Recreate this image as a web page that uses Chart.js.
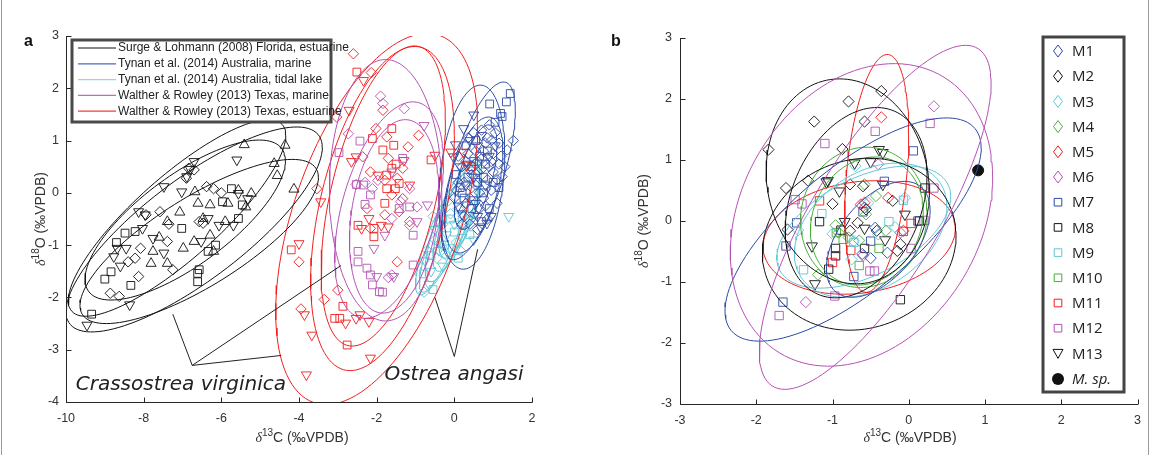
<!DOCTYPE html>
<html>
<head>
<meta charset="utf-8">
<script src="https://cdn.jsdelivr.net/npm/chart.js@4.4.1/dist/chart.umd.min.js"></script>
<style>
  body { margin:0; background:#fff; width:1150px; height:455px; position:relative; overflow:hidden; }
  canvas { position:absolute; top:0; }
  #ca { left:0; }
  #cb { left:575px; }
  .edge { position:absolute; top:0; height:455px; width:1px; background:#9a9a9a; }
</style>
</head>
<body>
<canvas id="ca" width="575" height="455"></canvas>
<canvas id="cb" width="575" height="455"></canvas>
<div class="edge" style="left:1px"></div>
<div class="edge" style="left:1148px"></div>
<script>
// ---------- panel a : data (d13C, d18O) ----------
var xTicksA = [-10, -8, -6, -4, -2, 0, 2];
var yTicksA = [-4, -3, -2, -1, 0, 1, 2, 3];
var legendA = ['Surge & Lohmann (2008) Florida, estuarine', 'Tynan et al. (2014) Australia, marine',
  'Tynan et al. (2014) Australia, tidal lake', 'Walther & Rowley (2013) Texas, marine',
  'Walther & Rowley (2013) Texas, estuarine'];

// Surge & Lohmann - black
var blkUp = [[-5.41,0.92],[-4.36,0.91],[-4.64,0.56],[-4.56,0.33],[-4.13,0.07],[-6.68,0.02],[-6.29,-0.23],[-7.07,-0.37],
  [-6.60,-0.20],[-5.83,-0.20],[-5.56,0.05],[-5.23,-0.01],[-5.37,-0.27],[-7.39,-0.55],[-6.98,-1.06],[-7.76,-1.12],
  [-7.81,-1.35],[-7.39,-1.35],[-6.29,-0.81],[-6.70,-0.93],[-6.20,-1.12],[-6.47,-0.49],[-7.60,-0.85],[-5.90,-0.55]];
var blkDown = [[-5.60,0.63],[-6.70,0.60],[-6.89,0.31],[-7.48,0.12],[-7.02,0.02],[-8.13,-0.36],[-7.96,-0.42],[-8.68,-1.06],
  [-8.77,-1.22],[-8.45,-1.06],[-8.03,-0.68],[-7.76,-0.87],[-7.48,-1.15],[-6.34,-0.49],[-6.06,-0.62],[-6.52,-0.93],
  [-5.69,-0.62],[-5.32,-0.11],[-8.36,-2.14],[-9.46,-2.53],[-5.56,-0.01],[-6.80,0.45],[-8.60,-1.40]];
var blkDia = [[-6.84,0.47],[-6.70,0.44],[-6.38,0.12],[-6.20,0.08],[-7.58,-0.36],[-7.94,-0.42],[-7.39,-0.93],[-8.08,-1.06],
  [-8.22,-1.25],[-8.40,-1.32],[-8.13,-1.60],[-7.25,-1.47],[-8.86,-1.92],[-8.63,-1.98],[-6.57,-0.55],[-6.47,-0.58],
  [-6.90,0.28],[-7.35,-0.60],[-6.00,0.00]];
var blkSq = [[-8.48,-0.77],[-8.22,-0.74],[-8.84,-1.51],[-9.00,-1.65],[-8.33,-1.77],[-9.34,-2.32],[-7.02,-0.68],[-6.61,-1.54],
  [-6.61,-1.70],[-6.34,-1.12],[-6.15,-1.00],[-5.97,-0.17],[-5.74,0.08],[-5.56,-0.49],[-5.46,-0.23],[-6.57,-1.47],[-8.70,-0.95]];

// Walther & Rowley estuarine - red
var redDia = [[-2.60,2.66],[-2.14,2.30],[-3.03,1.45],[-1.84,1.58],[-2.02,1.23],[-1.74,1.07],[-2.36,0.69],[-2.16,0.40],
  [-1.70,0.66],[-3.54,0.08],[-1.47,0.28],[-1.33,0.47],[-1.19,0.88],[-0.92,1.10],[-2.25,-0.30],[-1.79,-0.42],[-1.61,-0.04],
  [-1.47,-1.32],[-4.00,-1.32],[-3.00,-1.86],[-3.35,-2.04],[-3.95,-2.22],[-1.79,0.24],[-1.33,-0.11],[-2.16,-0.68],
  [-1.42,-0.36],[-1.15,-0.55]];
var redSq = [[-2.51,2.31],[-2.11,1.04],[-1.84,0.82],[-1.56,0.91],[-1.61,1.23],[-0.60,0.63],[-1.74,0.34],[-1.61,0.47],
  [-1.42,0.18],[-1.79,-0.20],[-2.48,-0.62],[-2.07,-0.68],[-2.07,-0.84],[-4.20,-1.09],[-2.87,-2.17],[-3.08,-2.40],
  [-2.76,-2.91],[-1.52,0.08],[-1.74,0.08],[-2.95,-2.40],[-1.50,0.55]];
var redDown = [[-2.34,2.15],[-2.71,1.58],[-2.53,0.69],[-0.09,0.78],[0.23,0.78],[0.32,0.53],[-0.50,0.72],[-1.97,0.34],
  [-1.15,0.15],[-3.44,-0.17],[-4.00,-0.97],[-2.20,-0.49],[-2.39,-0.68],[-1.88,-0.62],[-1.70,-0.65],[-3.86,-2.33],
  [-3.67,-2.72],[-3.81,-3.48],[-2.53,-2.40],[-2.80,-2.49],[-2.16,-3.16],[-2.43,-2.33],[-2.20,-2.46],[-1.30,0.62],[-2.65,0.60]];

// Walther & Rowley marine - magenta
var magDia = [[-1.90,1.85],[-1.84,1.71],[-1.29,1.61],[-2.73,1.13],[-2.53,0.16],[-2.11,0.08],[-1.15,0.08],[-0.96,-0.27],
  [-1.61,-0.49],[-1.15,-0.62],[-1.61,-1.57],[-1.97,0.24],[-1.38,-0.17],[-1.70,-1.62],[-2.30,0.20]];
var magSq = [[-2.97,0.77],[-2.43,0.99],[-2.52,0.16],[-2.30,-0.22],[-2.16,-0.04],[-1.42,-0.30],[-1.15,-0.27],[-1.06,-0.81],
  [-2.48,-1.12],[-2.48,-1.32],[-2.25,-1.44],[-2.16,-1.57],[-2.11,-1.76],[-1.93,-1.89],[-1.06,-1.38],[-1.33,0.66],
  [-2.34,0.15],[-1.85,-1.90]];
var magDown = [[-0.78,1.29],[-1.61,0.40],[-1.79,-0.81],[-2.07,-1.06],[-1.56,-1.60],[-0.69,-0.23],[-0.96,-0.55],[-2.00,-1.60]];

// Tynan marine - blue
var bluDia = [[1.52,1.00],[1.36,0.82],[1.23,0.31],[1.10,0.25],[0.95,0.60],[0.80,0.95],[0.70,1.20],[0.90,1.30],[1.05,1.15],
  [1.20,0.70],[0.60,0.40],[0.45,0.10],[0.30,-0.20],[0.50,-0.40],[0.75,-0.10],[0.95,0.05],[1.10,-0.20],[0.85,-0.50],
  [0.60,-0.70],[0.20,0.50],[0.35,0.75],[0.10,0.20],[0.00,-0.10],[1.30,0.50],[0.65,0.00],[0.40,-0.60],[0.25,-0.45],
  [1.00,0.40],[0.55,0.80],[0.15,-0.30],[0.85,0.25],[0.70,0.65],[0.40,0.45],[1.15,0.95],
  [0.35,1.05],[0.50,1.15],[0.85,1.05],[1.00,0.75],[0.75,0.80],[0.60,0.60],[0.45,0.35],[0.25,0.20],[0.55,0.15],
  [0.70,0.45],[0.90,0.50],[0.40,-0.10],[0.20,-0.60],[0.05,0.05],[0.65,-0.30],[0.80,-0.25],[0.30,0.60],[0.10,0.70],
  [1.15,0.55],[0.95,1.00]];
var bluSq = [[1.44,1.90],[1.34,1.74],[1.19,1.52],[1.23,1.46],[0.91,1.70],[1.05,1.35],[0.80,0.55],[0.60,0.20],[0.35,0.30],
  [0.90,-0.30],[0.70,-0.55],[0.45,-0.30],[0.20,0.00],[1.15,0.10],[0.50,0.60],[0.05,0.35],[0.75,0.30],
  [0.30,0.90],[0.55,1.00],[0.85,0.80],[0.45,0.50],[0.65,0.70],[0.25,-0.10],[0.75,0.00],[0.50,-0.15],[1.00,0.20],[0.15,0.10]];
var bluDown = [[0.50,1.49],[0.24,1.23],[0.03,0.92],[-0.02,0.69],[0.84,-0.58],[0.67,-0.65],[0.40,1.00],[0.60,0.90],
  [0.15,0.50],[0.30,0.15],[0.55,-0.20],[0.95,-0.45],[0.10,-0.25],[0.80,0.15],[1.05,0.90],
  [0.70,1.10],[0.35,0.55],[0.50,0.30],[0.20,-0.40],[0.90,0.70],[0.60,-0.45]];

// Tynan tidal lake - cyan
var cyaDown = [[1.40,-0.45],[-0.60,-1.50],[-0.75,-1.30],[-0.40,-1.10],[-0.20,-0.80],[0.00,-0.60],[0.20,-0.85],[-0.50,-0.70],
  [-0.30,-1.40],[0.35,-0.50],[-0.10,-1.05],[-0.65,-1.75],[0.50,-0.90]];
var cyaDia = [[-0.50,-0.90],[-0.30,-0.60],[-0.10,-0.40],[0.10,-0.30],[0.25,-0.60],[-0.20,-1.20],[-0.45,-1.25],[0.05,-0.95],
  [-0.70,-1.10],[0.30,-0.20],[-0.15,-0.15],[0.15,-1.10],[-0.55,-0.45],[-0.35,-0.95],[-0.78,-1.90]];
var cyaSq = [[-0.40,-0.55],[-0.25,-1.00],[0.00,-0.75],[0.20,-0.45],[-0.60,-1.20],[0.10,-1.25],[-0.80,-1.55],[0.40,-0.80],
  [-0.10,-0.50],[-0.55,-1.85]];

// ellipses: [centre x, centre y, half width, half height, tilt r]
var blkEll = [[-6.70,-0.70,3.30,1.96,0.80],[-7.14,-0.48,2.80,1.88,0.84],[-6.57,-0.93,3.07,1.57,0.78],[-6.93,-0.52,2.58,1.53,0.74]];
var redEll = [[-2.00,-0.50,2.60,3.55,0.50],[-1.85,-0.30,1.85,3.10,0.45],[-1.83,-0.06,1.60,2.87,0.50]];
var magEll = [[-1.77,0.05,1.45,2.50,0.00],[-1.68,-0.33,1.40,2.07,0.44],[-1.55,-0.45,1.15,1.85,0.25]];
var bluEll = [[0.62,0.42,0.95,1.70,0.68],[0.45,0.30,0.85,1.76,0.26],[0.50,0.15,0.75,1.30,0.50],[0.55,0.30,0.55,1.00,0.60]];
var cyaEll = [[-0.15,-0.65,0.85,1.30,0.85],[-0.05,-0.55,0.70,1.15,0.80],[0.05,-0.50,0.60,1.00,0.75],
  [-0.25,-0.80,0.65,1.10,0.85],[0.15,-0.35,0.55,0.90,0.70]];

// annotation leaders
var leadCrass = [[-7.25,-2.32],[-6.75,-3.30],[-2.92,-1.39]];
var leadCrass2 = [[-6.75,-3.30],[-4.46,-3.11]];
var leadOstrea = [[-0.50,-2.00],[0.00,-3.13],[0.60,-1.08]];

// ---------- panel b ----------
var xTicksB = [-3, -2, -1, 0, 1, 2, 3];
var yTicksB = [-3, -2, -1, 0, 1, 2, 3];
var legendB = ['M1','M2','M3','M4','M5','M6','M7','M8','M9','M10','M11','M12','M13','M. sp.'];

var m1 = [[-0.44,-0.11],[-0.28,-0.52],[-0.50,-0.61],[-0.61,-0.54],[-0.58,0.22]];
var m2 = [[-1.84,1.17],[-1.24,1.63],[-0.79,1.96],[-0.36,2.13],[-0.58,1.63],[-0.87,1.18],[-1.61,0.54],[-1.32,0.66],
  [-0.77,0.60],[-0.60,0.57],[-1.00,0.28],[-1.59,-0.14],[-0.77,-0.16],[-0.67,-0.03],[-0.56,0.19],[-0.21,0.33],
  [-0.42,-0.16],[-0.11,-0.38],[-0.15,-0.49]];
var m3 = [[-0.70,0.90],[-1.45,-0.15],[-1.00,-0.21],[-0.75,-0.63],[-0.72,-0.33],[-0.18,-0.10],[-0.05,0.38],[-0.53,0.30],[-0.40,-0.22]];
var m4 = [[-0.96,-0.07],[-0.79,-0.27],[-0.65,-0.32],[-0.58,0.60],[-0.56,0.11],[-0.43,0.41],[-0.30,-0.16],[-1.19,-0.88],[-0.92,-0.19]];
var m5 = [[-0.36,1.70],[-0.27,0.38],[-0.63,0.27],[-0.58,0.30],[-0.07,-0.16]];
var m6 = [[0.33,1.88],[-0.40,0.93],[-1.35,-1.33],[-0.60,-0.57],[-0.11,-0.19]];
var m7 = [[0.06,1.15],[-0.32,0.65],[-0.60,0.15],[-1.47,-0.03],[-1.61,-0.41],[-0.50,-0.33],[-0.72,-0.91],[-1.65,-1.33],[0.12,0.00],[-0.96,-0.57]];
var m8 = [[0.21,0.54],[-1.17,-0.01],[-0.89,-0.15],[-0.96,-0.45],[-0.58,-0.45],[-1.05,-0.79],[-0.11,-1.29],[0.14,0.00]];
var m9 = [[-0.26,-0.01],[-0.07,0.34],[-1.14,0.12],[-1.38,-0.80],[-0.72,-0.35]];
var m10 = [[-0.95,-0.19],[-0.65,-0.73],[-0.39,-0.45],[-0.86,-0.30]];
var m11 = [[-1.17,0.33],[-0.76,-0.48],[-1.00,-0.68],[-0.96,-0.57],[0.03,-0.04],[-0.07,-0.17]];
var m12 = [[0.28,1.60],[-1.10,1.27],[-0.44,1.47],[-1.49,0.35],[-1.40,0.28],[0.20,0.01],[0.33,0.54],[0.03,-0.45],
  [-0.51,-0.82],[-0.45,-0.82],[-0.97,-1.23],[-1.70,-1.55]];
var m13 = [[-0.39,1.17],[-0.50,0.97],[-0.71,0.95],[-1.06,0.66],[-1.08,0.64],[-0.91,0.49],[-0.34,0.60],[-0.84,-0.01],
  [-0.58,-0.12],[-0.31,-0.31],[-1.27,-0.41],[-1.23,-1.03],[-0.05,0.11],[-0.34,1.12]];
var msp = [[0.91,0.83]];

var bBluEll = [[-0.73,-0.14,1.68,1.83,0.73],[-0.40,-0.30,0.68,0.95,0.50]];
var bBlkEll = [[-0.80,0.65,1.07,1.68,-0.10],[-0.69,0.30,0.93,1.56,0.29],[-0.65,-0.38,1.27,1.41,0.10]];
var bCyaEll = [[-0.59,-0.10,1.14,1.00,0.50],[-0.50,-0.15,1.00,1.10,0.35]];
var bGrnEll = [[-0.59,0.06,0.83,1.15,0.05],[-0.55,0.00,0.74,1.05,0.15]];
var bRedEll = [[-0.42,0.78,0.42,1.95,0.33],[-0.65,-0.27,1.26,0.93,0.16]];
var bMagEll = [[-0.44,0.06,1.52,2.82,0.78],[-0.62,0.10,1.72,2.48,0.25]];

// ---------- colours ----------
var cBlk = '#111111', cBlu = '#2c4aa6', cCya = '#5ec6d6', cMag = '#b452b4', cRed = '#f21d1d', cGrn = '#46ad38';

function pts(arr){ return arr.map(function(p){ return {x:p[0], y:p[1]}; }); }

// outline of a confidence ellipse from its parameters
function ring(e){
  var cx=e[0], cy=e[1], sx=e[2], sy=e[3], r=e[4], k=Math.sqrt(1-r*r), out=[];
  for (var i=0;i<=120;i++){
    var t = 2*Math.PI*i/120;
    out.push({x: cx+sx*Math.cos(t), y: cy+sy*(r*Math.cos(t)+k*Math.sin(t))});
  }
  return out;
}
function ellDs(list, color){
  return list.map(function(e){
    return {data:ring(e), showLine:true, borderColor:color, borderWidth:1, pointRadius:0, pointHitRadius:0, fill:false, tension:0};
  });
}
function mkDs(arr, color, style, rad, rot){
  return {data:pts(arr), showLine:false, pointStyle:style, pointRadius:rad, pointRotation:rot||0,
    pointBorderColor:color, pointBackgroundColor:'rgba(0,0,0,0)', pointBorderWidth:0.9,
    borderColor:color, backgroundColor:'rgba(0,0,0,0)'};
}

function axisOpts(min, max, step, fit){
  return {type:'linear', min:min, max:max,
    ticks:{stepSize:step, color:'#333', font:{family:'Liberation Sans', size:12.5}, padding:fit.pad},
    grid:{display:false, drawTicks:false}, border:{display:false},
    afterFit:fit.fn};
}

function supTitle(ctx, parts, cx, cy, rot){
  ctx.save();
  ctx.translate(cx, cy); ctx.rotate(rot);
  var w = 0;
  parts.forEach(function(p){ ctx.font = p.f; p.w = ctx.measureText(p.t).width; w += p.w; });
  var x = -w/2;
  ctx.fillStyle = '#333'; ctx.textBaseline = 'alphabetic'; ctx.textAlign = 'left';
  parts.forEach(function(p){ ctx.font = p.f; ctx.fillText(p.t, x, 5 + (p.dy||0)); x += p.w; });
  ctx.restore();
}
function titleParts(num, letter){
  return [{t:'\u03b4', f:'italic 14px "Liberation Serif"'}, {t:num, f:'10px "Liberation Sans"', dy:-6},
          {t:letter+' (\u2030VPDB)', f:'14px "Liberation Sans"'}];
}

function frame(chart){
  var ctx=chart.ctx, ca=chart.chartArea, xs=chart.scales.x, ys=chart.scales.y;
  var L=Math.round(ca.left)+0.5, B=Math.round(ca.bottom)+0.5;
  ctx.save();
  ctx.strokeStyle='#262626'; ctx.lineWidth=1;
  ctx.beginPath();
  ctx.moveTo(L, ca.top); ctx.lineTo(L, B); ctx.lineTo(ca.right+0.5, B);
  xs.ticks.forEach(function(t){ var p=Math.round(xs.getPixelForValue(t.value))+0.5; ctx.moveTo(p,B); ctx.lineTo(p,B-5); });
  ys.ticks.forEach(function(t){ var p=Math.round(ys.getPixelForValue(t.value))+0.5; ctx.moveTo(L,p); ctx.lineTo(L+5,p); });
  ctx.stroke();
  ctx.restore();
}
function polyline(chart, arr){
  var ctx=chart.ctx, xs=chart.scales.x, ys=chart.scales.y;
  ctx.beginPath();
  arr.forEach(function(p,i){
    var px=xs.getPixelForValue(p[0]), py=ys.getPixelForValue(p[1]);
    if (i===0) ctx.moveTo(px,py); else ctx.lineTo(px,py);
  });
  ctx.stroke();
}

// ---------- panel a ----------
var dsA = [].concat(
  ellDs(blkEll, cBlk),
  [mkDs(blkUp, cBlk, 'triangle', 5.8, 0), mkDs(blkDown, cBlk, 'triangle', 5.8, 180),
   mkDs(blkDia, cBlk, 'rectRot', 5.2), mkDs(blkSq, cBlk, 'rect', 5.5)],
  ellDs(magEll, cMag),
  [mkDs(magDia, cMag, 'rectRot', 5.2), mkDs(magSq, cMag, 'rect', 5.5), mkDs(magDown, cMag, 'triangle', 5.8, 180)],
  ellDs(redEll, cRed),
  [mkDs(redDia, cRed, 'rectRot', 5.2), mkDs(redSq, cRed, 'rect', 5.5), mkDs(redDown, cRed, 'triangle', 5.8, 180)],
  ellDs(bluEll, cBlu),
  [mkDs(bluDia, cBlu, 'rectRot', 5.2), mkDs(bluSq, cBlu, 'rect', 5.5), mkDs(bluDown, cBlu, 'triangle', 5.8, 180)],
  ellDs(cyaEll, cCya),
  [mkDs(cyaDia, cCya, 'rectRot', 5.2), mkDs(cyaSq, cCya, 'rect', 5.5), mkDs(cyaDown, cCya, 'triangle', 5.8, 180)]
);

var decoA = {id:'decoA', afterDraw:function(chart){
  var ctx=chart.ctx, xs=chart.scales.x, ys=chart.scales.y;
  frame(chart);
  ctx.save();
  ctx.strokeStyle='#222'; ctx.lineWidth=1;
  polyline(chart, leadCrass); polyline(chart, leadCrass2); polyline(chart, leadOstrea);
  ctx.fillStyle='#222'; ctx.font='italic 20px "DejaVu Sans"'; ctx.textAlign='left'; ctx.textBaseline='alphabetic';
  ctx.fillText('Crassostrea virginica', xs.getPixelForValue(-9.75), ys.getPixelForValue(-3.78));
  ctx.fillText('Ostrea angasi', xs.getPixelForValue(-1.8), ys.getPixelForValue(-3.58));
  // legend
  var lx=72, ly=40, lw=259, lh=82;
  ctx.fillStyle='#fff'; ctx.fillRect(lx, ly, lw, lh);
  ctx.strokeStyle='#4a4a4a'; ctx.lineWidth=3; ctx.strokeRect(lx, ly, lw, lh);
  var cols=[cBlk, '#4f69bd', '#8adbe4', '#c766c7', '#ef4040'];
  ctx.font='12px "Liberation Sans"'; ctx.textBaseline='middle';
  legendA.forEach(function(t,i){
    var yy = ly + 8 + i*15.8;
    ctx.strokeStyle=cols[i]; ctx.lineWidth=1.2;
    ctx.beginPath(); ctx.moveTo(lx+6, yy); ctx.lineTo(lx+44, yy); ctx.stroke();
    ctx.fillStyle='#222'; ctx.fillText(t, lx+46, yy);
  });
  ctx.fillStyle='#111'; ctx.font='bold 16px "Liberation Sans"'; ctx.textBaseline='alphabetic';
  ctx.fillText('a', 24, 46);
  ctx.restore();
  supTitle(ctx, titleParts('13','C'), 302, 437, 0);
  supTitle(ctx, titleParts('18','O'), 40, 219, -Math.PI/2);
}};

new Chart(document.getElementById('ca'), {
  type:'scatter',
  data:{datasets:dsA},
  options:{responsive:false, animation:false, events:[],
    layout:{padding:{top:36, right:43, left:0, bottom:0}},
    plugins:{legend:{display:false}, tooltip:{enabled:false}},
    scales:{
      x: axisOpts(xTicksA[0], xTicksA[xTicksA.length-1], 2, {pad:9, fn:function(s){ s.height=53; }}),
      y: axisOpts(yTicksA[0], yTicksA[yTicksA.length-1], 1, {pad:7, fn:function(s){ s.width=66; }})
    }},
  plugins:[decoA]
});

// ---------- panel b ----------
var groupsB = [
  [m1, cBlu, 'rectRot'], [m2, cBlk, 'rectRot'], [m3, cCya, 'rectRot'], [m4, cGrn, 'rectRot'], [m5, cRed, 'rectRot'],
  [m6, cMag, 'rectRot'], [m7, cBlu, 'rect'], [m8, cBlk, 'rect'], [m9, cCya, 'rect'], [m10, cGrn, 'rect'],
  [m11, cRed, 'rect'], [m12, cMag, 'rect'], [m13, cBlk, 'triangle']
];
var dsB = [].concat(ellDs(bMagEll, cMag), ellDs(bBluEll, cBlu), ellDs(bBlkEll, cBlk), ellDs(bCyaEll, cCya),
  ellDs(bGrnEll, cGrn), ellDs(bRedEll, cRed));
groupsB.forEach(function(g){
  var rad = g[2]==='rect' ? 5.9 : (g[2]==='triangle' ? 6.3 : 5.6);
  dsB.push(mkDs(g[0], g[1], g[2], rad, g[2]==='triangle' ? 180 : 0));
});
dsB.push({data:pts(msp), showLine:false, pointStyle:'circle', pointRadius:5.5, pointBackgroundColor:'#111', pointBorderColor:'#111'});

function legendMark(ctx, style, color, x, y){
  ctx.strokeStyle=color; ctx.fillStyle=color; ctx.lineWidth=1;
  ctx.beginPath();
  if (style==='rectRot'){ ctx.moveTo(x, y-6); ctx.lineTo(x+4.5, y); ctx.lineTo(x, y+6); ctx.lineTo(x-4.5, y); ctx.closePath(); ctx.stroke(); }
  else if (style==='rect'){ ctx.rect(x-3.8, y-3.8, 7.6, 7.6); ctx.stroke(); }
  else if (style==='triangle'){ ctx.moveTo(x-5, y-4); ctx.lineTo(x+5, y-4); ctx.lineTo(x, y+5); ctx.closePath(); ctx.stroke(); }
  else { ctx.arc(x, y, 6, 0, 2*Math.PI); ctx.fill(); }
}

var decoB = {id:'decoB', afterDraw:function(chart){
  var ctx=chart.ctx;
  frame(chart);
  ctx.save();
  var lx=468, ly=37, lw=81, lh=355;
  ctx.fillStyle='#fff'; ctx.fillRect(lx, ly, lw, lh);
  ctx.strokeStyle='#444'; ctx.lineWidth=3; ctx.strokeRect(lx, ly, lw, lh);
  ctx.textBaseline='middle'; ctx.textAlign='left';
  legendB.forEach(function(t,i){
    var yy = ly + 14 + i*25.2;
    if (i===13) yy = ly + 342;
    if (i<13) legendMark(ctx, groupsB[i][2], groupsB[i][1], lx+15, yy);
    else legendMark(ctx, 'circle', '#111', lx+15, yy);
    ctx.fillStyle='#222';
    ctx.font = i===13 ? 'italic 15px "Open Sans"' : '15px "Open Sans"';
    ctx.fillText(t, lx+29, yy+1);
  });
  ctx.fillStyle='#111'; ctx.font='bold 16px "Liberation Sans"'; ctx.textBaseline='alphabetic';
  ctx.fillText('b', 36, 46);
  ctx.restore();
  supTitle(ctx, titleParts('13','C'), 335, 437, 0);
  supTitle(ctx, titleParts('18','O'), 68, 221, -Math.PI/2);
}};

new Chart(document.getElementById('cb'), {
  type:'scatter',
  data:{datasets:dsB},
  options:{responsive:false, animation:false, events:[],
    layout:{padding:{top:38, right:10, left:0, bottom:0}},
    plugins:{legend:{display:false}, tooltip:{enabled:false}},
    scales:{
      x: axisOpts(xTicksB[0], xTicksB[xTicksB.length-1], 1, {pad:9, fn:function(s){ s.height=51; }}),
      y: axisOpts(yTicksB[0], yTicksB[yTicksB.length-1], 1, {pad:8, fn:function(s){ s.width=105; }})
    }},
  plugins:[decoB]
});
</script>
</body>
</html>
